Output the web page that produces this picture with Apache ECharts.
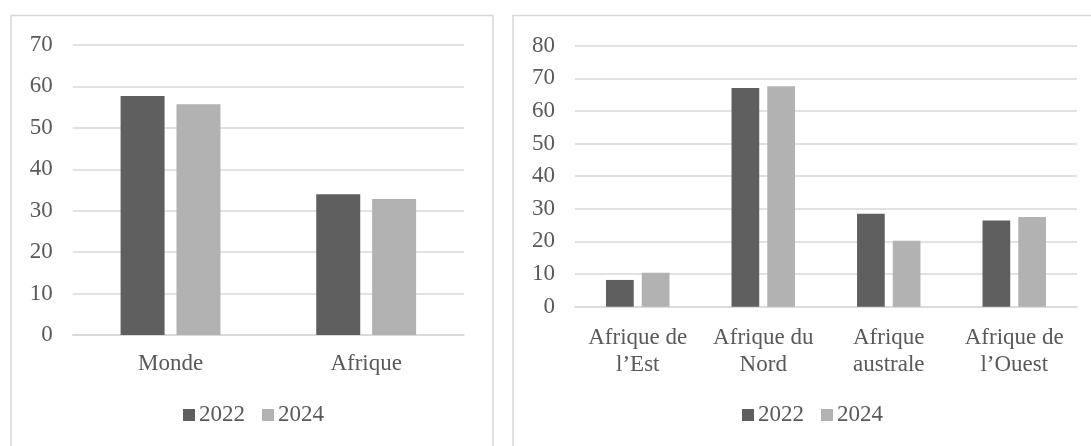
<!DOCTYPE html>
<html>
<head>
<meta charset="utf-8">
<script src="https://cdn.jsdelivr.net/npm/echarts@6/dist/echarts.min.js"></script>
<style>
html,body{margin:0;padding:0;background:#fff;}
#c{width:1091px;height:446px;}
</style>
</head>
<body>
<div id="c"></div>
<script>
// Left panel data
const leftCategories = ['Monde', 'Afrique'];
const left2022 = [57.7, 34.0];
const left2024 = [55.7, 32.8];
const leftTicks = { min: 0, max: 70, interval: 10 };

// Right panel data
const rightCategories = ['Afrique de\nl\u2019Est', 'Afrique du\nNord', 'Afrique\naustrale', 'Afrique de\nl\u2019Ouest'];
const right2022 = [8.2, 67.0, 28.5, 26.4];
const right2024 = [10.4, 67.6, 20.2, 27.5];
const rightTicks = { min: 0, max: 80, interval: 10 };

const seriesNames = ['2022', '2024'];

const FONT = '"Liberation Serif", "Times New Roman", serif';
const FS = 23;
const TEXT = '#595959';
const GRIDC = '#d9d9d9';
const C1 = '#5f5f5f';
const C2 = '#b2b2b2';

const chart = echarts.init(document.getElementById('c'), null, { renderer: 'canvas' });

function xAxisCfg(gi, cats, margin) {
  return {
    type: 'category', gridIndex: gi, data: cats,
    axisLine: { show: true, lineStyle: { color: GRIDC, width: 1.5 } },
    axisTick: { show: false },
    axisLabel: { interval: 0, color: TEXT, fontFamily: FONT, fontSize: FS, lineHeight: 27, margin: margin }
  };
}
function yAxisCfg(gi, t) {
  return {
    type: 'value', gridIndex: gi, min: t.min, max: t.max, interval: t.interval,
    axisLine: { show: false }, axisTick: { show: false },
    splitLine: { show: true, lineStyle: { color: GRIDC, width: 1.5 } },
    axisLabel: { color: TEXT, fontFamily: FONT, fontSize: FS, margin: 20 }
  };
}
function legendCfg(left) {
  return {
    data: seriesNames, left: left, top: 403, orient: 'horizontal', padding: 0,
    icon: 'rect', itemWidth: 12, itemHeight: 12, itemGap: 17,
    textStyle: { color: TEXT, fontFamily: FONT, fontSize: FS, lineHeight: 24, padding: [0, 0, 0, -1] },
    selectedMode: false
  };
}

chart.setOption({
  animation: false,
  backgroundColor: '#fff',
  graphic: [
    { type: 'rect', shape: { x: 11, y: 15.5, width: 482, height: 500 }, style: { fill: 'none', stroke: GRIDC, lineWidth: 1.5 }, silent: true },
    { type: 'rect', shape: { x: 513, y: 15.5, width: 700, height: 500 }, style: { fill: 'none', stroke: GRIDC, lineWidth: 1.5 }, silent: true }
  ],
  legend: [legendCfg(183), legendCfg(742)],
  grid: [
    { left: 72.7, right: 1091 - 464, top: 45, bottom: 446 - 335, containLabel: false },
    { left: 575, right: 1091 - 1077, top: 45.7, bottom: 446 - 306.7, containLabel: false }
  ],
  xAxis: [xAxisCfg(0, leftCategories, 15.5), xAxisCfg(1, rightCategories, 17.5)],
  yAxis: [yAxisCfg(0, leftTicks), yAxisCfg(1, rightTicks)],
  series: [
    { name: seriesNames[0], type: 'bar', xAxisIndex: 0, yAxisIndex: 0, data: left2022, barWidth: 44, barGap: '27%', itemStyle: { color: C1 } },
    { name: seriesNames[1], type: 'bar', xAxisIndex: 0, yAxisIndex: 0, data: left2024, barWidth: 44, barGap: '27%', itemStyle: { color: C2 } },
    { name: seriesNames[0], type: 'bar', xAxisIndex: 1, yAxisIndex: 1, data: right2022, barWidth: 27.7, barGap: '29%', itemStyle: { color: C1 } },
    { name: seriesNames[1], type: 'bar', xAxisIndex: 1, yAxisIndex: 1, data: right2024, barWidth: 27.7, barGap: '29%', itemStyle: { color: C2 } }
  ]
});
</script>
</body>
</html>
